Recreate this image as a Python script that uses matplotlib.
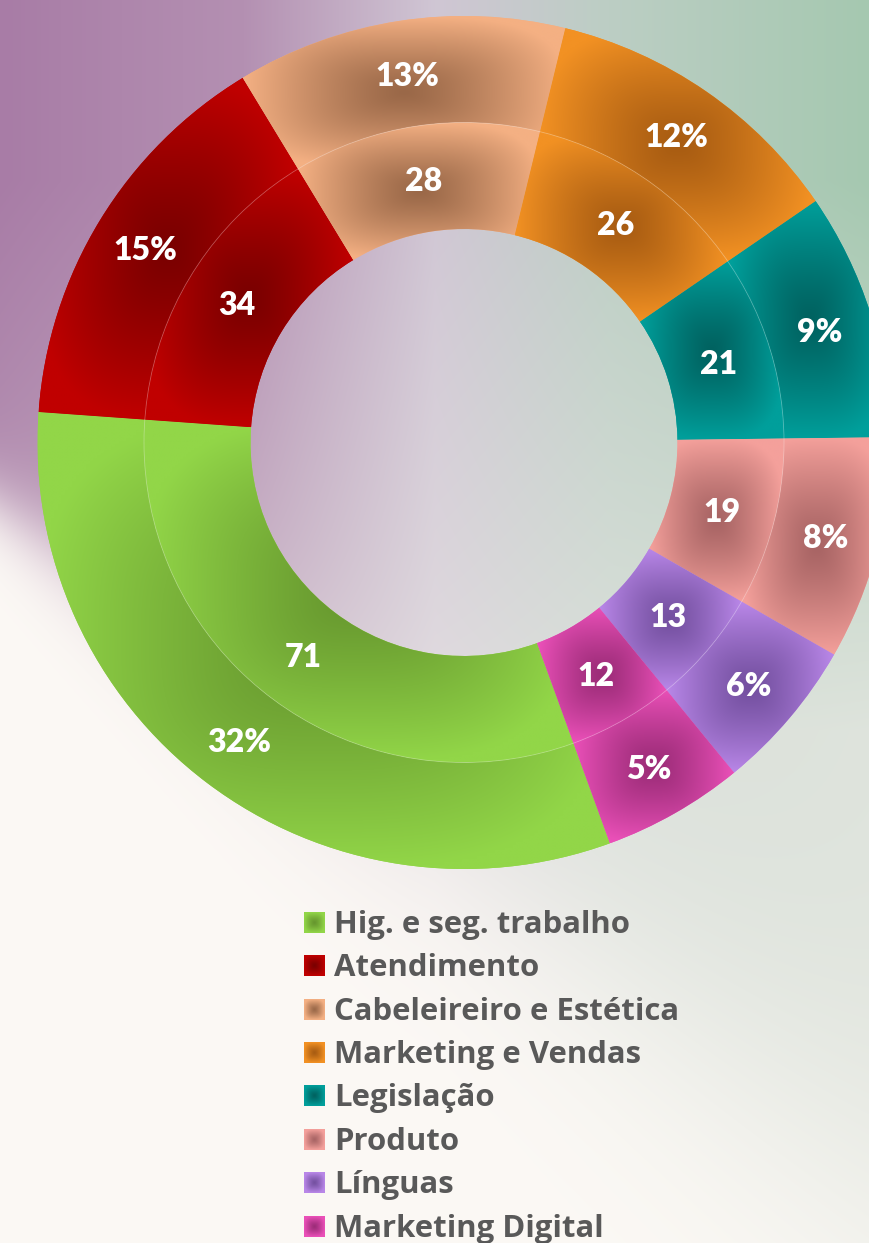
import numpy as np
import matplotlib
matplotlib.use("Agg")
import matplotlib.pyplot as plt
from matplotlib.patches import Circle

# data
categories = ["Hig. e seg. trabalho", "Atendimento", "Cabeleireiro e Estética",
              "Marketing e Vendas", "Legislação", "Produto", "Línguas", "Marketing Digital"]
counts = [71, 34, 28, 26, 21, 19, 13, 12]

# edge (light) and centre (dark) colour of each slice gradient
light_colors = ["#92d648", "#c00000", "#f4b083", "#f29123", "#009f9b", "#f4a09b", "#b987e8", "#ea50b8"]
dark_colors = ["#66962e", "#7a0000", "#9a6848", "#a85c12", "#006260", "#a86464", "#7450a0", "#9c2c78"]

W, H = 869, 1243
LABEL_FONT = ["Lato", "DejaVu Sans"]
LEGEND_FONT = ["Open Sans", "DejaVu Sans"]


def rgb(c):
    return np.array(matplotlib.colors.to_rgb(c))


def make_background():
    xs = np.arange(W)[None, :].astype(float)
    ys = np.arange(H)[:, None].astype(float)
    u = xs / W
    stops = np.array([0.0, 0.28, 0.5, 0.7, 1.0])
    cols = np.array([[168, 124, 166], [180, 144, 178], [208, 198, 212],
                     [188, 206, 196], [165, 200, 176]]) / 255
    col = np.stack([np.interp(u[0], stops, cols[:, k]) for k in range(3)], axis=-1)[None, :, :]
    pale = np.array([236, 234, 231]) / 255
    cream = np.array([252, 249, 245]) / 255

    v = np.clip((ys - 180) / 550, 0, 1)[..., None] * (0.3 + 0.5 * u)[..., None]
    col = col * (1 - v) + pale * v

    yb = 505 + 0.75 * xs
    s = 22 + 0.1 * xs
    A = 1 / (1 + np.exp((ys - yb) / s))
    return cream * (1 - A[..., None]) + col * A[..., None]


def shade(ax, patch, light, dark, extent, zorder, n=160):
    # rectangular "path" gradient, dark in the middle of the bounding box
    gx, gy = np.meshgrid(np.linspace(-1, 1, n), np.linspace(-1, 1, n))
    d = np.clip((np.abs(gx) ** 3 + np.abs(gy) ** 3) ** (1 / 3), 0, 1) ** 1.25
    img = rgb(dark) * (1 - d[..., None]) + rgb(light) * d[..., None]
    im = ax.imshow(img, extent=extent, origin="lower", interpolation="bilinear", zorder=zorder)
    if patch is not None:
        im.set_clip_path(patch)
    return im


fig = plt.figure(figsize=(W / 100, H / 100), dpi=100)
ax = fig.add_axes([0, 0, 1, 1])
ax.set_axis_off()

ax.imshow(make_background(), extent=(0, W, 0, H), origin="upper", interpolation="bilinear", zorder=0)

cx, cy = 464, H - 442.5
R = 426.5
ring = 106.5
total = sum(counts)


def pct_label(p):
    return f"{int(np.floor(p + 0.5 + 1e-6))}%"


def count_label(p):
    return f"{int(round(p * total / 100))}"


label_style = dict(color="white", fontsize=23, fontweight="heavy", family=LABEL_FONT,
                   va="center_baseline")

outer, _, outer_txt = ax.pie(counts, radius=R, center=(cx, cy), startangle=-70, counterclock=False,
                             colors=light_colors, wedgeprops=dict(width=ring, linewidth=0),
                             autopct=pct_label, pctdistance=(R - ring / 2) / R, textprops=label_style)
inner, _, inner_txt = ax.pie(counts, radius=R - ring, center=(cx, cy), startangle=-70, counterclock=False,
                             colors=light_colors, wedgeprops=dict(width=ring, linewidth=0),
                             autopct=count_label, pctdistance=(R - 1.5 * ring) / (R - ring),
                             textprops=label_style)

for wedges in (outer, inner):
    for w, lc, dc in zip(wedges, light_colors, dark_colors):
        w.set_zorder(1)
        e = w.get_path().get_extents()
        shade(ax, w, lc, dc, (e.x0, e.x1, e.y0, e.y1), zorder=2)

ax.add_patch(Circle((cx, cy), R - ring, fill=False, ec=(1, 1, 1, 0.3), lw=0.6, zorder=3))

for t in outer_txt + inner_txt:
    t.set_zorder(5)

# legend
sq = 21
x_sq = 304
base0 = 932.7
step = 43.4
for i, (name, lc, dc) in enumerate(zip(categories, light_colors, dark_colors)):
    yb = H - (base0 + i * step)
    shade(ax, None, lc, dc, (x_sq, x_sq + sq, yb, yb + sq), zorder=4, n=40)
    ax.text(x_sq + 30, yb, name, fontsize=22.4, fontweight="bold", color="#595959",
            family=LEGEND_FONT, va="baseline", ha="left", zorder=5)

ax.set_xlim(0, W)
ax.set_ylim(0, H)
ax.set_aspect("auto")

fig.savefig("out.png", dpi=100)
